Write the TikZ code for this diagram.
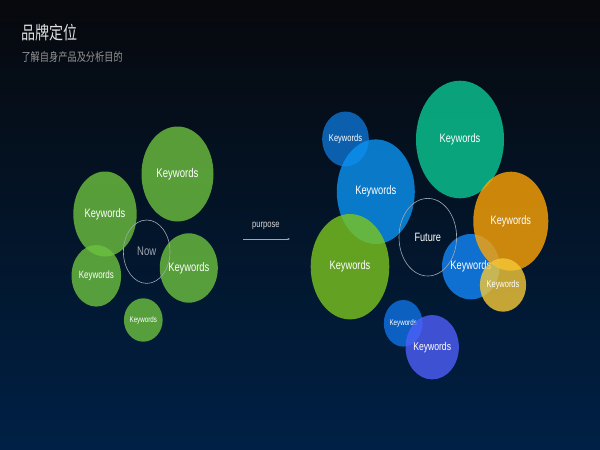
\documentclass[tikz,border=0pt]{standalone}
\usepackage{fontspec}
\setmainfont{Liberation Sans}[FakeStretch=0.76]
\newfontfamily\cjk{Noto Sans CJK SC}[FakeStretch=0.78]
\usetikzlibrary{shapes.geometric,arrows.meta}
\definecolor{bgtop}{RGB}{11,14,20}
\definecolor{bgmid}{RGB}{6,22,42}
\definecolor{bgbot}{RGB}{0,50,106}
\definecolor{lgreen}{RGB}{109,193,63}
\definecolor{rgreen}{RGB}{124,196,31}
\definecolor{teal}{RGB}{11,200,148}
\definecolor{bigblue}{RGB}{11,147,242}
\definecolor{topblue}{RGB}{14,115,209}
\definecolor{midblue}{RGB}{19,135,250}
\definecolor{lowblue}{RGB}{14,114,228}
\definecolor{orange}{RGB}{255,165,5}
\definecolor{yellow}{RGB}{245,200,55}
\definecolor{purple}{RGB}{79,95,250}
\definecolor{ringgray}{RGB}{160,168,180}
\tikzset{
  bubble/.style={ellipse,inner sep=0pt,fill opacity=0.8,text opacity=1,text=white},
  ring/.style={ellipse,inner sep=0pt,draw=ringgray,line width=0.6pt},
}
\begin{document}
\begin{tikzpicture}[x=1pt,y=1pt]
		\useasboundingbox (0,0) rectangle (600,-450);
		%background
		\shade[top color=bgtop,middle color=bgmid,bottom color=bgbot] (0,0) rectangle (600,-450);
		\begin{scope}[blend mode=multiply]
		\shade[left color=white!66!black,middle color=white,right color=white!66!black] (0,0) rectangle (600,-450);
		\end{scope}
		%titles
		\node[anchor=west,text=white!88!black] (title) at (18,-32.5) {\cjk\fontsize{18}{18}\selectfont 品牌定位};
		\node[anchor=west,text=white!58!black] (subtitle) at (18,-56.7) {\cjk\fontsize{11.8}{12}\selectfont 了解自身产品及分析目的};
		%now
		\foreach \n/\x/\y/\w/\h/\c/\s in {kwA/177.5/174/72/95/lgreen/12.6,kwB/105/214/63.4/85/lgreen/12.2,
			kwC/96.3/275.8/47.4/61.6/lgreen/10.5,kwD/188.8/268/52/69.4/lgreen/12.3,kwE/143.3/320/32/43.4/lgreen/8.2}
		\node[bubble,fill=\c,minimum width=\w pt,minimum height=\h pt,font=\fontsize{\s}{\s}\selectfont] (\n) at (\x,-\y) {Keywords};
		\node[ring,minimum width=46.6pt,minimum height=63.4pt,text=ringgray,font=\fontsize{12.5}{12.5}\selectfont] (now) at (146.7,-251.7) {Now};
		%purpose
		\node[text=white!85!black,font=\fontsize{10}{10}\selectfont] (purpose) at (265.8,-225.5) {purpose};
		\coordinate (pa) at (243,-239);
		\coordinate (pb) at (290,-239);
		\draw[ringgray,line width=0.6pt,-{Stealth[length=2.5pt,width=2pt]}] (pa) -- (pb);
		%future
		\foreach \n/\x/\y/\w/\h/\c/\s in {kwF/345.5/139/41/55/topblue/9.9,kwG/375.8/191.7/78/104.6/bigblue/12.3,
			kwH/460/139.5/88/117.6/teal/12.2,kwI/350/266.7/78.6/105.4/rgreen/12.2,kwJ/470.8/266.7/48.4/65.4/midblue/12.2,
			kwK/510.8/221.2/75/99/orange/12.1,kwL/503/285/39.4/53.4/yellow/9.8,kwM/403.2/323.3/35/46.6/lowblue/8.2,
			kwN/432.2/347.2/47.6/64.4/purple/11.3}
		\node[bubble,fill=\c,minimum width=\w pt,minimum height=\h pt,font=\fontsize{\s}{\s}\selectfont] (\n) at (\x,-\y) {Keywords};
		\node[ring,minimum width=57.6pt,minimum height=77.6pt,text=white,font=\fontsize{12.1}{12.1}\selectfont] (future) at (427.8,-237.2) {Future};
		\end{tikzpicture}
\end{document}
